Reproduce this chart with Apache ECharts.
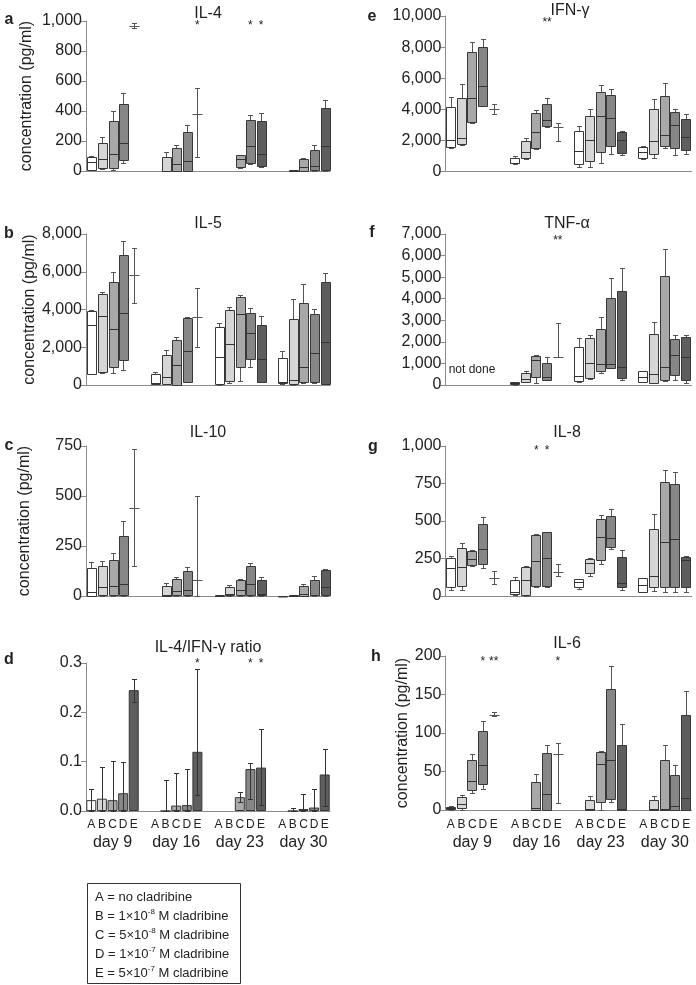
<!DOCTYPE html>
<html><head><meta charset="utf-8">
<script src="https://cdn.jsdelivr.net/npm/echarts@6/dist/echarts.min.js"></script>
<style>html,body{margin:0;padding:0;background:#fff}#c{width:696px;height:985px}</style>
</head><body><div id="c"></div>
<script>
// ---------- categories ----------
const groups = ['A','B','C','D','E'];
const days = ['day 9','day 16','day 23','day 30'];
const dayKeys = ['9','16','23','30'];

// ---------- data: [min, q1, median, q3, max]; q1/q3 null = range bar only; null = not measured ----------
// order: A9..E9, A16..E16, A23..E23, A30..E30
const il4 = [
  [5,10,62,95,100],[15,22,82,190,228],[10,18,111,335,401],[55,75,184,446,517],[955,null,968,null,985],
  null,[0,2,3,91,124],[0,3,44,153,173],[0,3,67,262,306],[93,null,379,null,554],
  null,null,[18,30,80,106,110],[44,55,168,340,372],[25,35,113,333,390],
  null,[0,0,2,5,5],[0,3,29,82,88],[0,5,35,140,175],[0,5,168,421,472]
];
const il5 = [
  [580,590,3170,3930,3950],[650,680,3670,4840,4930],[620,940,2990,5480,6000],[780,1340,3840,6900,7620],[4360,null,5830,null,7260],
  [50,60,100,570,680],[30,50,450,1580,1870],[0,10,1050,2380,2530],[170,180,1820,3560,3610],[2010,null,3580,null,5140],
  [20,40,1460,3080,3260],[90,230,2170,4000,4150],[210,940,3740,4660,4750],[980,1390,2760,3790,4060],[150,180,1390,3200,3650],
  [50,80,180,1420,1780],[20,50,270,3500,4570],[100,140,940,4360,5340],[100,150,1690,3740,4040],[30,50,2300,5480,5920]
];
const il10 = [
  [0,2,20,139,170],[0,3,45,149,175],[0,5,51,180,217],[0,5,60,300,374],[150,null,442,null,735],
  null,[0,2,3,48,65],[0,3,23,84,94],[0,3,28,123,144],[0,null,81,null,498],
  [0,0,2,3,3],[0,5,12,46,57],[0,5,30,80,86],[0,3,58,150,164],[0,3,10,78,93],
  [0,0,1,2,2],[0,0,1,4,5],[0,2,10,48,60],[0,3,5,81,101],[0,3,45,129,137]
];
const ifng = [
  [1540,1600,2030,4180,4820],[1690,1780,2180,4710,5610],[3150,3170,4710,7710,8310],[4220,4240,5525,8030,8500],[3680,null,4020,null,4320],
  [500,520,540,900,1000],[810,860,1285,1990,2160],[1450,1540,2530,3750,3960],[2890,2950,3280,4370,4710],[1970,null,2830,null,3100],
  [320,510,1350,2610,2930],[320,690,2030,3580,4000],[540,1240,3600,5100,5570],[1110,1610,3430,4930,5310],[1030,1220,2030,2530,2630],
  [800,900,1230,1550,1650],[850,1110,1950,4020,4690],[1540,1670,2330,4880,5720],[1050,1480,2980,3800,4040],[1120,1400,2250,3380,3720]
];
const tnf = [
  null,null,null,null,null,
  [20,30,80,140,160],[120,150,260,570,640],[110,360,1160,1340,1390],[220,240,360,1040,1280],[1290,null,1290,null,2870],
  [150,190,400,1780,2200],[300,320,1010,2170,2300],[540,650,990,2600,3130],[780,800,960,4030,4980],[230,310,820,4340,5430],
  [120,130,370,630,640],[80,110,500,2360,2910],[200,250,850,5040,6320],[230,460,1400,2130,2330],[80,230,1290,2220,2330]
];
const il8 = [
  [40,60,190,251,268],[40,70,195,317,355],[200,206,248,302,308],[184,211,315,481,524],[78,null,118,null,166],
  [10,15,30,105,128],[0,5,110,195,197],[60,70,235,410,412],[60,70,255,428,430],[133,null,158,null,211],
  [50,60,95,111,115],[133,151,217,246,251],[213,240,395,515,539],[311,324,388,535,579],[40,60,85,262,310],
  [25,30,75,118,120],[35,60,133,444,546],[25,60,359,757,839],[25,60,377,748,825],[25,60,240,262,268]
];
const il6 = [
  [0,1,2,3.5,5],[0,2,7.5,16.7,19],[22,25.5,38,65,73],[27,34,59,102,116],[122,null,124,null,127],
  null,null,[0,0,2,36.5,46.6],[0,0,21,73.4,84],[9,null,73,null,87],
  null,[0,0,1,13.6,18],[0,11,60,75,76],[10,14.5,65,157,187],[0,0,1,85,112],
  null,[0,0,1,12.7,17.6],[0,0,1,65,85],[0,0,5,46,58],[0,0,16,124,155]
];
// IL-4/IFN-γ ratio: bar value and error range
const ratioMean = [0.022,0.025,0.022,0.036,0.245, null,0,0.011,0.012,0.120, null,null,0.028,0.085,0.088, null,0,0.004,0.007,0.074];
const ratioLow  = [0,0,0,0,0.221, null,0,0,0,0.032, null,null,0.019,0.025,0.013, null,0,0,0,0.010];
const ratioHigh = [0.045,0.090,0.102,0.100,0.268, null,0.063,0.078,0.085,0.288, null,null,0.039,0.097,0.167, null,0.006,0.035,0.045,0.125];

// significance marks: [group+day, y value, text]
const il4Stars   = [['E16',968,'*'],['D23',968,'*'],['E23',968,'*']];
const ifngStars  = [['D16',9570,'**']];
const tnfStars   = [['E16',6690,'**']];
const il8Stars   = [['C16',971,'*'],['D16',971,'*']];
const ratioStars = [['E16',0.298,'*'],['D23',0.298,'*'],['E23',0.298,'*']];
const il6Stars   = [['D9',193,'*'],['E9',193,'**'],['E16',193,'*']];

// y tick settings
const yMax = {a:1000,b:8000,c:750,d:0.3,e:10000,f:7000,g:1000,h:200};
const yInt = {a:200,b:2000,c:250,d:0.1,e:2000,f:1000,g:250,h:50};

// ---------- build ----------
const cats = [];
for (let d=0; d<4; d++) {
  for (let g=0; g<5; g++) cats.push(groups[g]+dayKeys[d]);
  if (d<3) cats.push('gap'+d);
}
const catOf = k => Math.floor(k/5)*6 + (k%5);
const fills = ['#ffffff','#d6d6d6','#a8a8a8','#878787','#5e5e5e'];
const FONT = '"Liberation Sans", Arial, Helvetica, sans-serif';

const grids = [
  {left:86, top:21, width:244, height:150},
  {left:86, top:234, width:244, height:151},
  {left:86, top:446, width:244, height:150},
  {left:86, top:663, width:244, height:148},
  {left:445.5, top:16, width:246, height:155.5},
  {left:445.5, top:234, width:246, height:151},
  {left:445.5, top:446, width:246, height:150},
  {left:445.5, top:656, width:246, height:154}
];
const keys = ['a','b','c','d','e','f','g','h'];
const axisColor = '#8a8a8a';

const xAxes = keys.map((k,i) => {
  const bottom = (k==='d' || k==='h');
  return {
    type:'category', gridIndex:i, data:cats, boundaryGap:true,
    axisLine:{lineStyle:{color:axisColor,width:1}},
    axisTick:{alignWithLabel:true, interval:(idx)=> idx%6!==5, length:5, lineStyle:{color:axisColor}},
    axisLabel: bottom ? {
      show:true, interval:0, margin: k==='d' ? 7 : 8, fontFamily:FONT, color:'#222',
      formatter:(v, idx)=>{
        const g = idx%6; if (g===5) return '';
        if (g===2) return '{l|C}\n{d|'+days[Math.floor(idx/6)]+'}';
        return '{l|'+groups[g]+'}';
      },
      rich:{l:{fontSize:12,lineHeight:14,fontFamily:FONT,color:'#222'}, d:{fontSize:16,lineHeight:22,fontFamily:FONT,color:'#222'}}
    } : {show:false}
  };
});

const yName = {a:51,b:44,c:53,h:33};
const yAxes = keys.map((k,i) => ({
  type:'value', gridIndex:i, min:0, max:yMax[k], interval:yInt[k],
  name: yName[k] ? 'concentration (pg/ml)' : '',
  nameLocation:'middle', nameGap: yName[k]||0, nameRotate:90,
  nameTextStyle:{fontSize:16, fontFamily:FONT, color:'#222'},
  axisLine:{show:true, lineStyle:{color:axisColor}},
  axisTick:{show:true, length:5, lineStyle:{color:axisColor}},
  splitLine:{show:false},
  axisLabel:{fontSize:16, fontFamily:FONT, color:'#222', margin:4,
    formatter: k==='d' ? (v=>v.toFixed(1)) : (v=>v.toLocaleString('en-US'))}
}));

function boxRender(params, api) {
  const x = api.value(0);
  const kind = api.value(6), g = api.value(7);
  const bw = api.size([1,0])[0];
  const w = bw*0.94;
  const pMin = api.coord([x, api.value(1)]);
  const pQ1 = api.coord([x, api.value(2)]);
  const pMd = api.coord([x, api.value(3)]);
  const pQ3 = api.coord([x, api.value(4)]);
  const pMx = api.coord([x, api.value(5)]);
  const cx = Math.round(pMd[0]) + 0.5;
  const r = v => Math.round(v) + 0.5;
  const ch = [];
  const wh = '#555';
  const line = (x1,y1,x2,y2,c,lw) => ch.push({type:'line', shape:{x1,y1,x2,y2}, style:{stroke:c, lineWidth:lw||1}});
  const cap = 2.5;
  if (kind === 1) {
    line(cx, r(pMin[1]), cx, r(pMx[1]), wh);
    line(cx-cap, r(pMin[1]), cx+cap, r(pMin[1]), wh);
    line(cx-cap, r(pMx[1]), cx+cap, r(pMx[1]), wh);
    line(cx-w/2, r(pMd[1]), cx+w/2, r(pMd[1]), wh);
  } else {
    line(cx, r(pMx[1]), cx, r(pQ3[1]), wh);
    line(cx-cap, r(pMx[1]), cx+cap, r(pMx[1]), wh);
    line(cx, r(pQ1[1]), cx, r(pMin[1]), wh);
    line(cx-cap, r(pMin[1]), cx+cap, r(pMin[1]), wh);
    const top = r(pQ3[1]), bot = r(pQ1[1]);
    ch.push({type:'rect', shape:{x:Math.round(cx-w/2)+0.5, y:top, width:Math.round(w)-1, height:Math.max(bot-top,0.5)},
      style:{fill:fills[g], stroke:'#383838', lineWidth:1}});
    line(Math.round(cx-w/2)+0.5, r(pMd[1]), Math.round(cx-w/2)+Math.round(w)-0.5, r(pMd[1]), '#333');
  }
  return {type:'group', children:ch};
}

function boxData(arr) {
  const out = [];
  arr.forEach((b,k) => {
    if (!b) return;
    const g = k%5;
    if (b[1] === null) out.push([catOf(k), b[0], b[2], b[2], b[2], b[4], 1, g]);
    else out.push([catOf(k), b[0], b[1], b[2], b[3], b[4], 0, g]);
  });
  return out;
}
function boxSeries(arr, gi) {
  return {type:'custom', xAxisIndex:gi, yAxisIndex:gi, renderItem:boxRender, data:boxData(arr),
    encode:{x:0, y:[1,2,3,4,5]}, clip:false, silent:true, z:3};
}
function starSeries(list, gi) {
  return {type:'scatter', xAxisIndex:gi, yAxisIndex:gi, symbolSize:1, itemStyle:{color:'rgba(0,0,0,0)'}, silent:true, z:5, clip:false,
    data:list.map(s=>[s[0], s[1]]),
    label:{show:true, position:'inside', fontSize:12, fontFamily:FONT, color:'#222', opacity:1,
      formatter:p=>list[p.dataIndex][2]}};
}

const series = [
  boxSeries(il4,0), boxSeries(il5,1), boxSeries(il10,2),
  boxSeries(ifng,4), boxSeries(tnf,5), boxSeries(il8,6), boxSeries(il6,7),
  starSeries(il4Stars,0), starSeries(ifngStars,4), starSeries(tnfStars,5),
  starSeries(il8Stars,6), starSeries(ratioStars,3), starSeries(il6Stars,7)
];

// ratio bars
const ratioBarData = cats.map(()=> '-');
ratioMean.forEach((v,k)=>{ if (v!==null) ratioBarData[catOf(k)] = {value:v, itemStyle:{color:fills[k%5]}}; });
series.push({type:'bar', xAxisIndex:3, yAxisIndex:3, data:ratioBarData, barWidth:10, silent:true, z:2,
  itemStyle:{borderColor:'#383838', borderWidth:1}});
const errData = [];
ratioMean.forEach((v,k)=>{ if (v!==null) errData.push([catOf(k), ratioLow[k], ratioHigh[k]]); });
series.push({type:'custom', xAxisIndex:3, yAxisIndex:3, data:errData, encode:{x:0,y:[1,2]}, clip:false, silent:true, z:4,
  renderItem:(p,api)=>{
    const lo = api.coord([api.value(0), api.value(1)]);
    const hi = api.coord([api.value(0), api.value(2)]);
    const cx = Math.round(hi[0])+0.5;
    const r = v => Math.round(v)+0.5;
    const c = '#333';
    return {type:'group', children:[
      {type:'line', shape:{x1:cx,y1:r(lo[1]),x2:cx,y2:r(hi[1])}, style:{stroke:c,lineWidth:1}},
      {type:'line', shape:{x1:cx-2.5,y1:r(hi[1]),x2:cx+2.5,y2:r(hi[1])}, style:{stroke:c,lineWidth:1}},
      {type:'line', shape:{x1:cx-2.5,y1:r(lo[1]),x2:cx+2.5,y2:r(lo[1])}, style:{stroke:c,lineWidth:1}}
    ]};
  }});

// ---------- text decorations ----------
const T = (text, x, y, size, opts) => Object.assign({type:'text', x, y, silent:true,
  style:Object.assign({text, fontSize:size, fontFamily:FONT, fill:'#222', align:'center', verticalAlign:'middle'}, opts||{})});
const graphics = [
  T('a',9,20,16,{fontWeight:'bold'}), T('b',9,234,16,{fontWeight:'bold'}), T('c',9,446,16,{fontWeight:'bold'}), T('d',9,660,16,{fontWeight:'bold'}),
  T('e',372,17,16,{fontWeight:'bold'}), T('f',372,233,16,{fontWeight:'bold'}), T('g',373,447,16,{fontWeight:'bold'}), T('h',376,657,16,{fontWeight:'bold'}),
  T('IL-4',208,14,16), T('IL-5',208,224,16), T('IL-10',208,433,16), T('IL-4/IFN-γ ratio',208,648,16),
  T('IFN-γ',570,11,16), T('TNF-α',567,224,16), T('IL-8',567,433,16), T('IL-6',567,644,16),
  T('not done',472,370,12),
  {type:'rect', shape:{x:87.5,y:883.5,width:153,height:100}, style:{fill:'#fff',stroke:'#333',lineWidth:1}, silent:true}
];
const legendRich = {n:{fontSize:13,fontFamily:FONT,fill:'#222',lineHeight:16}, s:{fontSize:8,fontFamily:FONT,fill:'#222',lineHeight:16,verticalAlign:'top',padding:[0,0,6,0]}};
const legendLines = [
  '{n|A = no cladribine}',
  '{n|B = 1×10}{s|-8}{n| M cladribine}',
  '{n|C = 5×10}{s|-8}{n| M cladribine}',
  '{n|D = 1×10}{s|-7}{n| M cladribine}',
  '{n|E = 5×10}{s|-7}{n| M cladribine}'
];
legendLines.forEach((t,i)=> graphics.push({type:'text', x:95, y:897+i*19, silent:true,
  style:{text:t, rich:legendRich, align:'left', verticalAlign:'middle', fontFamily:FONT}}));

const chart = echarts.init(document.getElementById('c'), null, {renderer:'canvas', width:696, height:985});
chart.setOption({
  animation:false, backgroundColor:'#fff',
  grid:grids, xAxis:xAxes, yAxis:yAxes, series, graphic:graphics
});
</script></body></html>
